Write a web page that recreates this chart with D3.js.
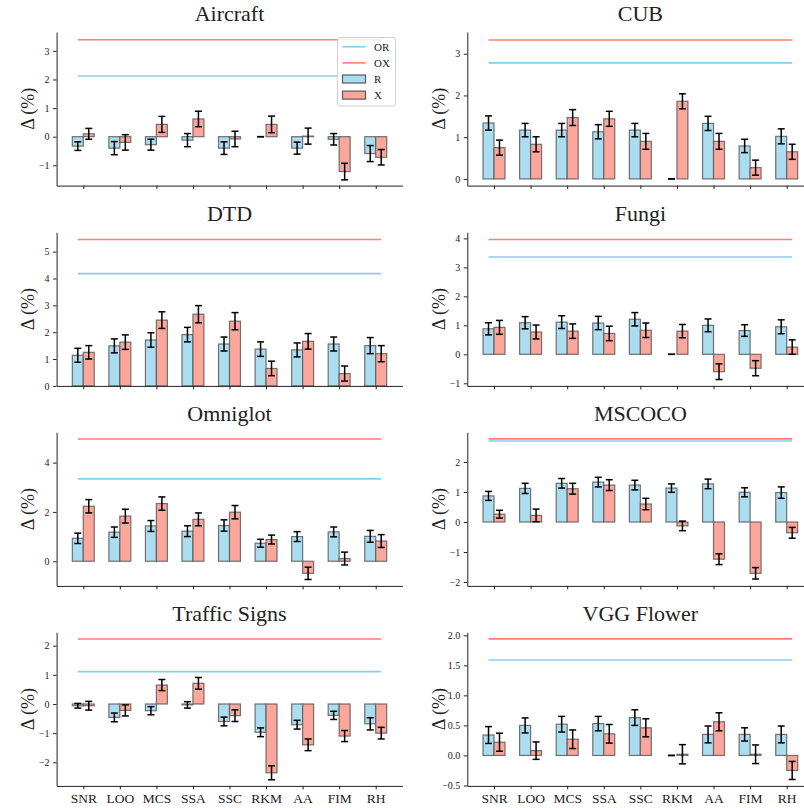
<!DOCTYPE html>
<html>
<head>
<meta charset="utf-8">
<script src="https://cdn.jsdelivr.net/npm/d3@7"></script>
<style>
  html, body { margin: 0; padding: 0; background: #fff; }
  svg { display: block; }
</style>
</head>
<body>
<svg id="chart" width="804" height="808"></svg>
<script>
// ---------------- DATA ----------------
const categories = ["SNR", "LOO", "MCS", "SSA", "SSC", "RKM", "AA", "FIM", "RH"];
const datasets = ["Aircraft", "CUB", "DTD", "Fungi", "Omniglot", "MSCOCO", "Traffic Signs", "VGG Flower"];

// oracle levels per dataset (OR, OX)
const orLevels = [2.12, 2.78, 4.18, 3.36, 3.34, 2.70, 1.11, 1.59];
const oxLevels = [3.39, 3.33, 5.45, 3.96, 4.96, 2.77, 2.23, 1.94];

const aircraftR    = [-0.33, -0.40, -0.28, -0.12, -0.40, 0.00, -0.40, -0.09, -0.59];
const aircraftRErr = [0.15, 0.23, 0.19, 0.23, 0.22, 0.00, 0.21, 0.20, 0.28];
const aircraftX    = [0.10, -0.20, 0.43, 0.62, -0.08, 0.43, 0.02, -1.22, -0.72];
const aircraftXErr = [0.19, 0.27, 0.28, 0.27, 0.27, 0.29, 0.28, 0.29, 0.27];

const cubR    = [1.34, 1.17, 1.17, 1.13, 1.17, 0.00, 1.33, 0.79, 1.02];
const cubRErr = [0.17, 0.16, 0.16, 0.17, 0.16, 0.00, 0.17, 0.16, 0.18];
const cubX    = [0.75, 0.83, 1.47, 1.44, 0.90, 1.86, 0.90, 0.27, 0.65];
const cubXErr = [0.18, 0.18, 0.19, 0.18, 0.19, 0.18, 0.19, 0.18, 0.18];

const dtdR    = [1.14, 1.49, 1.71, 1.91, 1.56, 1.37, 1.34, 1.56, 1.50];
const dtdRErr = [0.26, 0.26, 0.27, 0.27, 0.26, 0.27, 0.26, 0.26, 0.30];
const dtdX    = [1.25, 1.63, 2.45, 2.67, 2.41, 0.65, 1.66, 0.46, 1.20];
const dtdXErr = [0.25, 0.27, 0.31, 0.32, 0.32, 0.27, 0.29, 0.28, 0.30];

const fungiR    = [0.88, 1.09, 1.11, 1.08, 1.21, 0.00, 1.00, 0.82, 0.95];
const fungiRErr = [0.21, 0.21, 0.22, 0.23, 0.23, 0.00, 0.22, 0.20, 0.24];
const fungiX    = [0.93, 0.77, 0.80, 0.72, 0.83, 0.80, -0.60, -0.48, 0.25];
const fungiXErr = [0.24, 0.24, 0.25, 0.25, 0.25, 0.23, 0.27, 0.26, 0.25];

const omniglotR    = [0.93, 1.18, 1.43, 1.22, 1.45, 0.73, 1.00, 1.19, 1.01];
const omniglotRErr = [0.21, 0.21, 0.22, 0.22, 0.23, 0.16, 0.20, 0.20, 0.24];
const omniglotX    = [2.23, 1.83, 2.34, 1.70, 1.99, 0.88, -0.49, 0.11, 0.82];
const omniglotXErr = [0.27, 0.28, 0.27, 0.26, 0.27, 0.18, 0.25, 0.26, 0.26];

const mscocoR    = [0.87, 1.12, 1.29, 1.33, 1.23, 1.13, 1.27, 0.99, 0.98];
const mscocoRErr = [0.15, 0.17, 0.16, 0.16, 0.16, 0.14, 0.16, 0.15, 0.19];
const mscocoX    = [0.26, 0.22, 1.11, 1.23, 0.60, -0.13, -1.24, -1.71, -0.36];
const mscocoXErr = [0.13, 0.21, 0.18, 0.18, 0.19, 0.16, 0.18, 0.19, 0.18];

const trafficR    = [-0.06, -0.46, -0.23, -0.03, -0.60, -0.97, -0.71, -0.39, -0.68];
const trafficRErr = [0.08, 0.15, 0.14, 0.11, 0.15, 0.15, 0.15, 0.14, 0.21];
const trafficX    = [-0.06, -0.22, 0.65, 0.71, -0.40, -2.36, -1.40, -1.10, -1.00];
const trafficXErr = [0.15, 0.19, 0.19, 0.20, 0.20, 0.24, 0.20, 0.19, 0.20];

const vggR    = [0.34, 0.50, 0.52, 0.53, 0.63, 0.00, 0.35, 0.35, 0.35];
const vggRErr = [0.14, 0.125, 0.13, 0.12, 0.13, 0.00, 0.14, 0.11, 0.14];
const vggX    = [0.22, 0.08, 0.27, 0.36, 0.46, 0.02, 0.56, 0.02, -0.25];
const vggXErr = [0.15, 0.145, 0.155, 0.155, 0.15, 0.16, 0.15, 0.155, 0.15];

// y-axis limits and tick values per dataset
const yLimits = [[-1.71, 3.66], [-0.16, 3.52], [0, 5.72], [-1.09, 4.21],
                 [-1.0, 5.23], [-2.13, 2.99], [-2.81, 2.46], [-0.507, 2.05]];
const yTickValues = [[-1, 0, 1, 2, 3], [0, 1, 2, 3], [0, 1, 2, 3, 4, 5], [-1, 0, 1, 2, 3, 4],
                     [0, 2, 4], [-2, -1, 0, 1, 2], [-2, -1, 0, 1, 2], [-0.5, 0, 0.5, 1, 1.5, 2]];

const seriesR = [aircraftR, cubR, dtdR, fungiR, omniglotR, mscocoR, trafficR, vggR];
const seriesRErr = [aircraftRErr, cubRErr, dtdRErr, fungiRErr, omniglotRErr, mscocoRErr, trafficRErr, vggRErr];
const seriesX = [aircraftX, cubX, dtdX, fungiX, omniglotX, mscocoX, trafficX, vggX];
const seriesXErr = [aircraftXErr, cubXErr, dtdXErr, fungiXErr, omniglotXErr, mscocoXErr, trafficXErr, vggXErr];

// ---------------- STYLE / LAYOUT ----------------
const FONT = "Liberation Serif";
const colR = "#abddf1", colX = "#fca69c";
const lineR = "#87ceeb", lineX = "#fa8072";
const barEdge = "#5a5a5a";
const colLeft = [56.6, 467.3], colRight = [402.4, 813.4];
const rowTop = [32, 232.3, 432.3, 632.3], panelH = 153.6;
const barW = 0.3;

const svg = d3.select("#chart").attr("font-family", FONT);

datasets.forEach((name, k) => {
  const row = Math.floor(k / 2), col = k % 2;
  const top = rowTop[row], bottom = top + panelH;
  const x = d3.scaleLinear().domain([-0.73, 8.73]).range([colLeft[col], colRight[col]]);
  const y = d3.scaleLinear().domain(yLimits[k]).range([bottom, top]);
  const g = svg.append("g");

  const rows = categories.map((c, i) => ({
    i, r: seriesR[k][i], re: seriesRErr[k][i], xv: seriesX[k][i], xe: seriesXErr[k][i]
  }));

  // bars
  const drawBars = (acc, off, fill) => {
    g.selectAll(null).data(rows).enter().append("rect")
      .attr("x", d => x(d.i + off - barW / 2))
      .attr("width", d => x(d.i + off + barW / 2) - x(d.i + off - barW / 2))
      .attr("y", d => Math.min(y(acc(d)), y(0)))
      .attr("height", d => Math.abs(y(acc(d)) - y(0)))
      .attr("fill", fill)
      .attr("stroke", barEdge)
      .attr("stroke-opacity", 0.85)
      .attr("stroke-width", 1.2);
  };
  drawBars(d => d.r, -0.15, colR);
  drawBars(d => d.xv, 0.15, colX);

  // error bars
  const drawErr = (acc, eacc, off) => {
    const eg = g.selectAll(null).data(rows).enter().append("g")
      .attr("stroke", "#000").attr("stroke-width", 1.5);
    eg.append("line")
      .attr("x1", d => x(d.i + off)).attr("x2", d => x(d.i + off))
      .attr("y1", d => y(acc(d) - eacc(d))).attr("y2", d => y(acc(d) + eacc(d)));
    [-1, 1].forEach(s => {
      eg.append("line")
        .attr("x1", d => x(d.i + off) - 3.5).attr("x2", d => x(d.i + off) + 3.5)
        .attr("y1", d => y(acc(d) + s * eacc(d))).attr("y2", d => y(acc(d) + s * eacc(d)));
    });
  };
  drawErr(d => d.r, d => d.re, -0.15);
  drawErr(d => d.xv, d => d.xe, 0.15);

  // oracle lines
  g.append("line")
    .attr("x1", x(-0.15)).attr("x2", x(8.15))
    .attr("y1", y(orLevels[k])).attr("y2", y(orLevels[k]))
    .attr("stroke", lineR).attr("stroke-width", 1.6);
  g.append("line")
    .attr("x1", x(-0.15)).attr("x2", x(8.15))
    .attr("y1", y(oxLevels[k])).attr("y2", y(oxLevels[k]))
    .attr("stroke", lineX).attr("stroke-width", 1.6);

  // axes
  const fmt = k === 7 ? d3.format(".1f") : d3.format("d");
  const ya = g.append("g").attr("transform", `translate(${colLeft[col]},0)`)
    .call(d3.axisLeft(y).tickValues(yTickValues[k]).tickFormat(fmt).tickSize(3.5).tickPadding(3.5).tickSizeOuter(0));
  ya.attr("font-size", 10);
  const xa = g.append("g").attr("transform", `translate(0,${bottom})`)
    .call(d3.axisBottom(x).tickValues(d3.range(categories.length))
      .tickFormat(i => row === 3 ? categories[i] : "").tickSize(3.5).tickPadding(4).tickSizeOuter(0));
  xa.attr("font-size", 13.5);
  [ya, xa].forEach(a => {
    a.attr("font-family", FONT);
    a.select(".domain").attr("stroke", "#222").attr("stroke-width", 1);
    a.selectAll(".tick line").attr("stroke", "#222");
    a.selectAll("text").attr("fill", "#222");
  });

  // title
  svg.append("text")
    .attr("x", (colLeft[col] + colRight[col]) / 2)
    .attr("y", top - 11)
    .attr("text-anchor", "middle")
    .attr("font-size", 22)
    .attr("fill", "#222")
    .text(name);

  // y label
  svg.append("text")
    .attr("transform", `translate(${colLeft[col] - 29},${(top + bottom) / 2}) rotate(-90)`)
    .attr("text-anchor", "middle")
    .attr("dy", "0.35em")
    .attr("font-size", 18)
    .attr("fill", "#222")
    .text("Δ (%)");

  // legend only on first panel
  if (k === 0) {
    const lg = svg.append("g").attr("transform", "translate(337.5,37.5)");
    lg.append("rect").attr("width", 58).attr("height", 68.5).attr("rx", 2.5)
      .attr("fill", "#fff").attr("fill-opacity", 0.85).attr("stroke", "#d0d0d0");
    const items = [
      {label: "OR", type: "line", color: lineR},
      {label: "OX", type: "line", color: lineX},
      {label: "R", type: "patch", color: colR},
      {label: "X", type: "patch", color: colX}
    ];
    items.forEach((it, j) => {
      const cy = 9.3 + j * 16.1;
      if (it.type === "line") {
        lg.append("line").attr("x1", 5).attr("x2", 28).attr("y1", cy).attr("y2", cy)
          .attr("stroke", it.color).attr("stroke-width", 1.6);
      } else {
        lg.append("rect").attr("x", 5).attr("y", cy - 4).attr("width", 23).attr("height", 8)
          .attr("fill", it.color).attr("stroke", barEdge).attr("stroke-width", 1.2);
      }
      lg.append("text").attr("x", 36.5).attr("y", cy).attr("dy", "0.35em")
        .attr("font-size", 11).attr("fill", "#222").text(it.label);
    });
  }
});
</script>
</body>
</html>
